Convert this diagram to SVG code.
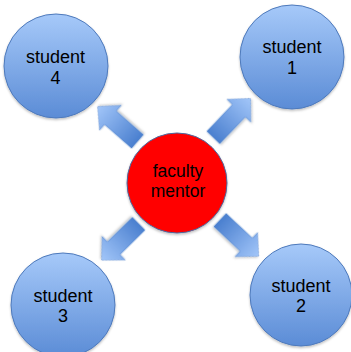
<svg xmlns="http://www.w3.org/2000/svg" width="351" height="352" viewBox="0 0 351 352">
  <defs>
    <linearGradient id="gStudent" x1="0" y1="0" x2="0" y2="1">
      <stop offset="0" stop-color="#a6c9f9"/>
      <stop offset="1" stop-color="#5b8cd6"/>
    </linearGradient>
    <linearGradient id="gArrow" x1="0" y1="0" x2="1" y2="0">
      <stop offset="0" stop-color="#4a7fcf"/>
      <stop offset="1" stop-color="#a2c6f9"/>
    </linearGradient>
    <filter id="shadow" x="-20%" y="-20%" width="140%" height="140%">
      <feDropShadow dx="0" dy="1.5" stdDeviation="1.2" flood-color="#000" flood-opacity="0.25"/>
    </filter>
  </defs>
  <style>
    .student { fill: url(#gStudent); stroke: #4d79bb; stroke-width: 1; filter: url(#shadow); }
    .mentor { fill: #ff0000; stroke: #4a6aa0; stroke-width: 1; filter: url(#shadow); }
    .arrow { fill: url(#gArrow); stroke: #5a88cc; stroke-width: 0.5; filter: url(#shadow); }
    .label { font-family: "Liberation Sans", Arial, sans-serif; font-size: 18px; fill: #000; text-anchor: middle; }
    .mlabel { font-family: "Liberation Sans", Arial, sans-serif; font-size: 17.5px; fill: #000; text-anchor: middle; }
  </style>
  <rect width="351" height="352" fill="#ffffff"/>

  <g id="connectors">
    <polygon class="arrow" transform="translate(137.5,141.5) rotate(-138.8)" points="0,-9 36,-9 36,-16.5 53,0 36,16.5 36,9 0,9"/>
    <polygon class="arrow" transform="translate(213.3,137.5) rotate(-46.3)" points="0,-9 37,-9 37,-16.5 54,0 37,16.5 37,9 0,9"/>
    <polygon class="arrow" transform="translate(220,220) rotate(43.1)" points="0,-9 36,-9 36,-16.5 53,0 36,16.5 36,9 0,9"/>
    <polygon class="arrow" transform="translate(138.7,223.7) rotate(135.5)" points="0,-9 35,-9 35,-16.5 52,0 35,16.5 35,9 0,9"/>
  </g>

  <g id="mentor">
    <circle class="mentor" cx="177" cy="183" r="50"/>
    <text class="mlabel" x="178" y="177">faculty</text>
    <text class="mlabel" x="178" y="197">mentor</text>
  </g>

  <g id="student1">
    <circle class="student" cx="292" cy="57" r="52"/>
    <text class="label" x="292" y="53">student</text>
    <text class="label" x="292" y="74">1</text>
  </g>

  <g id="student2">
    <circle class="student" cx="301" cy="295" r="51"/>
    <text class="label" x="301" y="292">student</text>
    <text class="label" x="301" y="312">2</text>
  </g>

  <g id="student3">
    <circle class="student" cx="63" cy="305" r="52"/>
    <text class="label" x="63" y="302">student</text>
    <text class="label" x="63" y="322">3</text>
  </g>

  <g id="student4">
    <circle class="student" cx="56" cy="66" r="52"/>
    <text class="label" x="55.5" y="63">student</text>
    <text class="label" x="55.5" y="84">4</text>
  </g>
</svg>
